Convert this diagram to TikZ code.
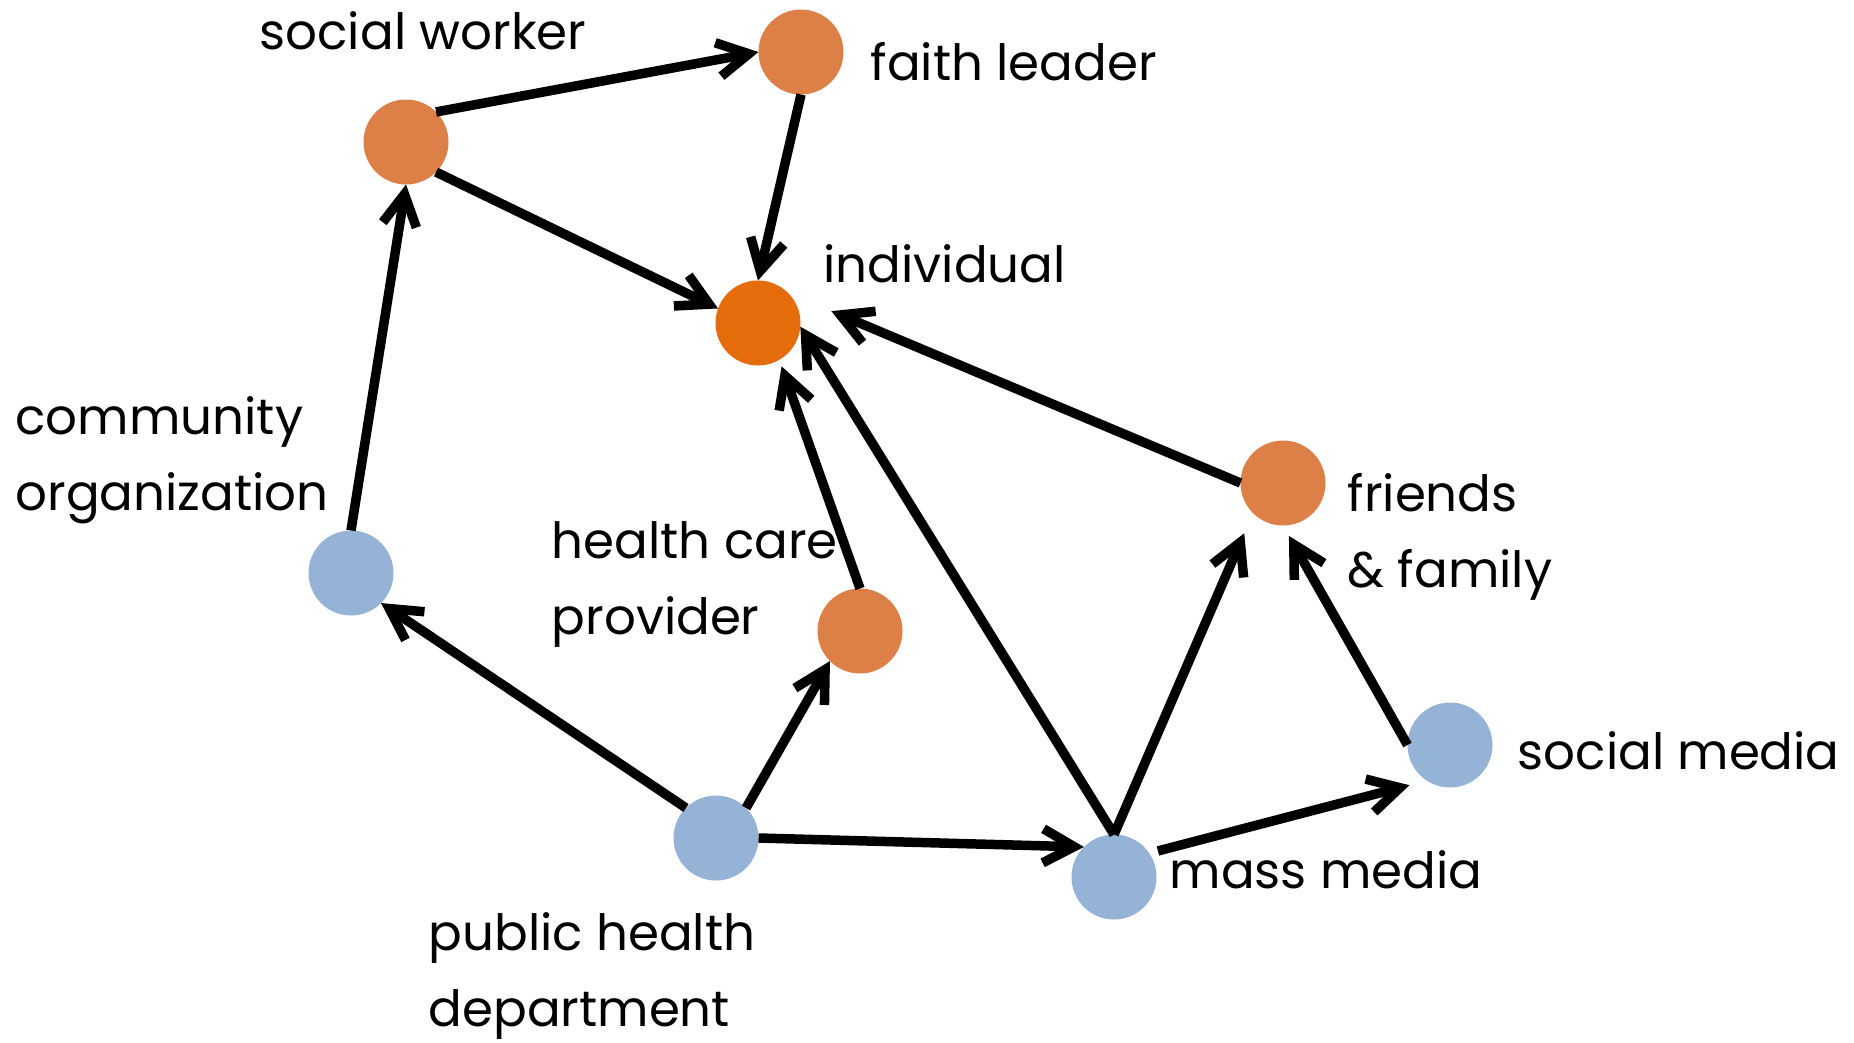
\documentclass[tikz,border=0pt]{standalone}
\usepackage{fontspec}
\setmainfont{Poppins}
\usetikzlibrary{arrows.meta}
\definecolor{actororange}{RGB}{221,128,71}
\definecolor{centerorange}{RGB}{228,108,10}
\definecolor{actorblue}{RGB}{149,179,215}

\begin{document}
\begin{tikzpicture}[
  actor/.style={circle,minimum size=0.85cm,inner sep=0pt,outer sep=0pt},
  link/.style={line width=0.095cm,-{Straight Barb[length=0.31cm,width=0.34cm]}},
  lbl/.style={anchor=base west,align=left,inner sep=0pt,font=\fontsize{14.2}{21.6}\selectfont}
]
\useasboundingbox (0,0) rectangle (18.54,-10.42);
% Draw the actors
\node[actor,fill=actororange] (worker) at (4.06,-1.42) {};
\node[actor,fill=actororange] (faith) at (8.01,-0.52) {};
\node[actor,fill=centerorange] (indiv) at (7.58,-3.23) {};
\node[actor,fill=actorblue] (commorg) at (3.51,-5.73) {};
\node[actor,fill=actororange] (care) at (8.60,-6.31) {};
\node[actor,fill=actororange] (friends) at (12.83,-4.83) {};
\node[actor,fill=actorblue] (socmedia) at (14.50,-7.45) {};
\node[actor,fill=actorblue] (pubhealth) at (7.16,-8.38) {};
\node[actor,fill=actorblue] (massmedia) at (11.14,-8.77) {};
% Draw the links
\draw[link] (worker.north east) -- (faith.west);
\draw[link] (faith.south) -- (indiv.north);
\draw[link] (worker.south east) -- (indiv.160);
\draw[link] (commorg.north) -- (worker.south);
\draw[link] (pubhealth.north west) -- (commorg.south east);
\draw[link] (pubhealth.north east) -- (care.south west);
\draw[link] (pubhealth.east) -- (massmedia.north west);
\draw[link,shorten >=0.07cm] (care.north) -- (indiv.-60);
\draw[link] (massmedia.north) -- (indiv.-5);
\draw[link,shorten >=0.22cm] (massmedia.north) -- (friends.south west);
\draw[link,shorten <=0.09cm,shorten >=0.18cm] (massmedia.34) -- (socmedia.237);
\draw[link,shorten >=0.12cm] (socmedia.west) -- (friends.south);
\draw[link,shorten >=0.47cm] (friends.west) -- (indiv.north east);
% Labels (base = last line)
\node[lbl] (workerlbl) at (2.59,-0.49) {social worker};
\node[lbl] (faithlbl) at (8.70,-0.80) {faith leader};
\node[lbl] (indivlbl) at (8.23,-2.82) {individual};
\node[lbl] (commorglbl) at (0.15,-5.10) {community\\organization};
\node[lbl] (carelbl) at (5.51,-6.34) {health care\\provider};
\node[lbl] (friendslbl) at (13.47,-5.87) {friends\\\& family};
\node[lbl] (socmedialbl) at (15.17,-7.69) {social media};
\node[lbl] (massmedialbl) at (11.69,-8.88) {mass media};
\node[lbl] (pubhealthlbl) at (4.28,-10.26) {public health\\department};
\end{tikzpicture}
\end{document}
